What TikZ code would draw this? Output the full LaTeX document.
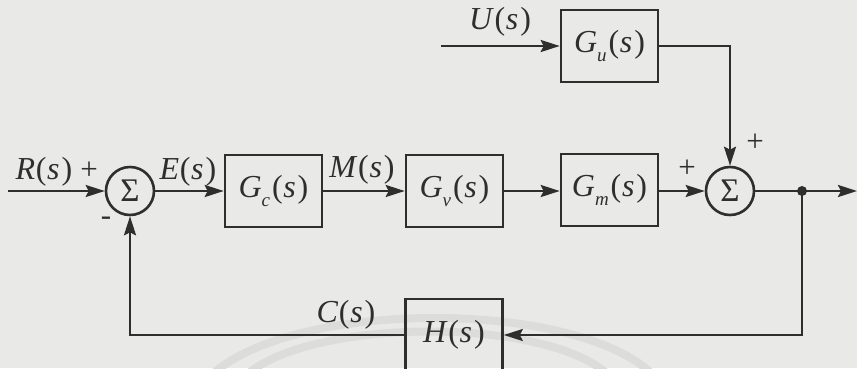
\documentclass[tikz,border=0pt]{standalone}
\usepackage{fontspec}
\setmainfont{Liberation Serif}
\usetikzlibrary{arrows.meta}
\definecolor{bg}{HTML}{E9E9E7}
\definecolor{ink}{HTML}{2E2E2E}
\definecolor{wm}{HTML}{DCDCDA}
\newcommand{\tfn}[2]{\textit{#1}\raisebox{-0.28em}{\fontsize{19}{19}\selectfont\textit{#2}}\kern0.06em(\kern0.02em\textit{s}\kern0.06em)}
\newcommand{\sig}[1]{\textit{#1}\kern0.02em(\kern0.02em\textit{s}\kern0.06em)}
\begin{document}
\begin{tikzpicture}[x=1pt,y=-1pt,
  blk/.style={draw=ink, line width=2.6pt, minimum width=97pt, minimum height=72pt, inner sep=0pt, font=\fontsize{32}{34}\selectfont, text=ink},
  sumn/.style={circle, draw=ink, line width=2.6pt, minimum size=48pt, inner sep=0pt, font=\fontsize{33}{33}\selectfont, text=ink},
  lbl/.style={anchor=base, inner sep=0pt, font=\fontsize{32}{34}\selectfont, text=ink},
  sgn/.style={inner sep=0pt, font=\fontsize{31}{31}\selectfont, text=ink},
  arr/.style={draw=ink, line width=2.6pt, -{Stealth[length=19pt,width=12pt,inset=3pt]}},
  ln/.style={draw=ink, line width=2.6pt}]
\useasboundingbox (0,0) rectangle (857,368);
\clip (0,0) rectangle (857,368);
\fill[bg] (0,0) rectangle (857,368);
% faint watermark arcs
\draw[wm, line width=8pt] (215,372) .. controls (300,300) and (570,300) .. (650,372);
\draw[wm, line width=8pt] (250,372) .. controls (320,318) and (540,318) .. (605,372);
% nodes
\node[sumn] (s1) at (130,191) {Σ};
\node[blk] (gc) at (273.5,191) {\tfn{G}{c}};
\node[blk] (gv) at (454.5,191) {\tfn{G}{v}};
\node[blk] (gm) at (609.5,190) {\tfn{G}{m}};
\node[blk] (gu) at (609.5,46) {\tfn{G}{u}};
\node[sumn] (s2) at (730,191) {Σ};
\node[blk] (h) at (454,335) {\sig{H}};
\coordinate (rin) at (8,191);
\coordinate (uin) at (441,46);
\coordinate (j) at (802,191);
\coordinate (out) at (857,191);
% labels
\node[lbl] (lr) at (44,179) {\sig{R}};
\node[lbl] (le) at (188,179) {\sig{E}};
\node[lbl] (lm) at (362,177) {\sig{M}};
\node[lbl] (lu) at (500,29) {\sig{U}};
\node[lbl] (lc) at (346,322) {\sig{C}};
\node[sgn] (p1) at (89,171) {+};
\node[sgn] (m1) at (106,221) {-};
\node[sgn] (p2) at (687,169) {+};
\node[sgn] (p3) at (755,143) {+};
% connectors
\draw[arr] (rin) -- (s1);
\draw[arr] (s1) -- (gc);
\draw[arr] (gc) -- (gv);
\draw[arr] (gv) -- (gm.west |- s1);
\draw[arr] (gm.east |- s2) -- (s2);
\draw[arr] (uin) -- (gu);
\draw[arr] (gu.east) -| (s2.north);
\draw[arr] (s2) -- (out);
\fill[ink] (j) circle (5pt);
\draw[arr] (j) |- (h.east);
\draw[arr] (h.west) -| (s1.south);
\end{tikzpicture}
\end{document}
